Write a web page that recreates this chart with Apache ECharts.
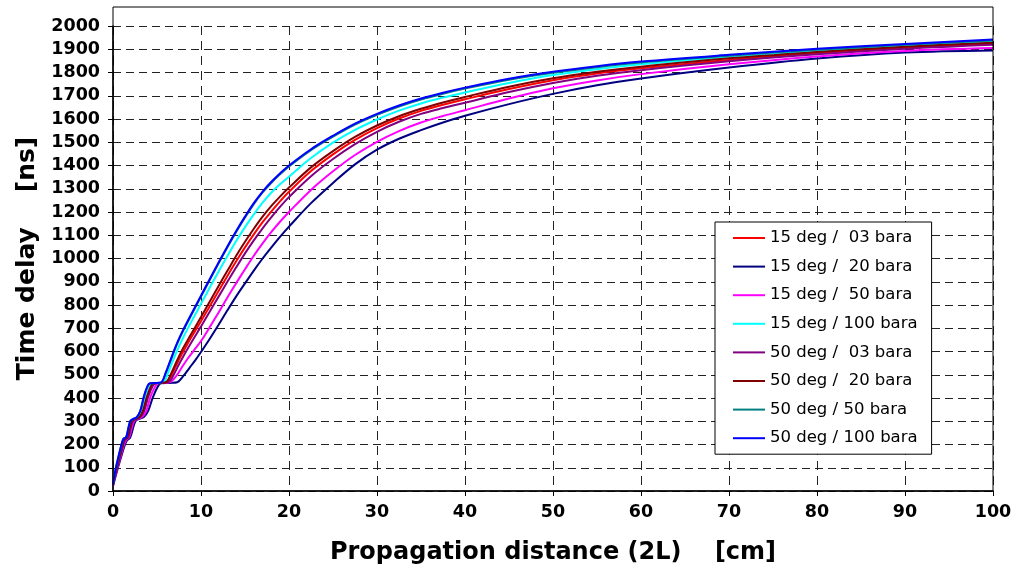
<!DOCTYPE html>
<html>
<head>
<meta charset="utf-8">
<script src="https://cdn.jsdelivr.net/npm/echarts@6/dist/echarts.min.js"></script>
<style>
  html, body { margin: 0; padding: 0; background: #fff; }
  #chart { width: 1015px; height: 577px; }
</style>
</head>
<body>
<div id="chart"></div>
<script>
// [distance cm, delay ns]
const deg15_bar03 = [[0,26],[0.34,85],[0.67,135],[1.12,200],[1.35,222],[1.7,232],[2.0,280],[2.25,303],[2.6,310],[3.05,318],[3.5,345],[3.9,405],[4.4,450],[4.7,463],[5.6,465],[6.2,470],[6.7,502],[7.3,550],[7.8,587],[8.5,635],[9,668],[10,730],[11,795],[12,860],[13,925],[14,988],[15,1048],[16,1104],[17,1156],[18,1203],[19,1247],[20,1287],[22.5,1376],[25,1448],[27.5,1510],[30,1561],[32.5,1602],[35,1635],[37.5,1661],[40,1685],[45,1729],[50,1767],[55,1796],[60,1818],[70,1854],[80,1883],[90,1906],[100,1923]];
const deg15_bar20 = [[0,22],[0.4,78],[0.78,128],[1.3,193],[1.6,218],[1.95,230],[2.35,280],[2.6,303],[3.0,310],[3.5,318],[4.0,345],[4.55,405],[5.1,450],[5.45,463],[6.5,465],[7.3,468],[8.0,495],[8.7,530],[9.4,565],[10,598],[11,655],[12,715],[13,777],[14,837],[15,893],[16,948],[17,1000],[18,1048],[19,1094],[20,1137],[22.5,1238],[25,1325],[27.5,1405],[30,1468],[32.5,1515],[35,1552],[37.5,1585],[40,1614],[45,1664],[50,1708],[55,1745],[60,1774],[70,1821],[80,1860],[90,1886],[100,1895]];
const deg15_bar50 = [[0,24],[0.37,80],[0.73,130],[1.22,195],[1.5,220],[1.85,232],[2.2,280],[2.45,303],[2.85,310],[3.3,318],[3.8,345],[4.25,405],[4.8,450],[5.1,463],[6.1,465],[6.6,470],[7.2,495],[7.8,530],[8.5,570],[9.2,605],[10,645],[11,705],[12,768],[13,832],[14,894],[15,954],[16,1012],[17,1065],[18,1114],[19,1159],[20,1200],[22.5,1295],[25,1375],[27.5,1445],[30,1502],[32.5,1548],[35,1585],[37.5,1613],[40,1638],[45,1688],[50,1732],[55,1766],[60,1793],[70,1835],[80,1869],[90,1893],[100,1905]];
const deg15_bar100 = [[0,28],[0.3,85],[0.6,135],[1.0,195],[1.3,225],[1.6,235],[1.9,280],[2.1,303],[2.4,310],[2.8,318],[3.2,345],[3.7,410],[4.1,452],[4.4,463],[5.2,465],[5.8,470],[6.3,512],[6.8,560],[7.3,605],[8,662],[9,735],[10,805],[11,875],[12,944],[13,1011],[14,1075],[15,1135],[16,1190],[17,1240],[18,1284],[19,1320],[20,1352],[22.5,1432],[25,1498],[27.5,1553],[30,1598],[32.5,1636],[35,1667],[37.5,1692],[40,1714],[45,1755],[50,1789],[55,1814],[60,1835],[70,1868],[80,1894],[90,1916],[100,1934]];
const deg50_bar03 = [[0,25],[0.35,82],[0.7,133],[1.15,198],[1.4,222],[1.75,232],[2.05,280],[2.3,303],[2.7,310],[3.1,318],[3.55,345],[4.0,405],[4.5,450],[4.85,463],[5.75,465],[6.4,470],[6.9,500],[7.5,545],[8.0,580],[9,645],[10,708],[11,772],[12,836],[13,900],[14,962],[15,1022],[16,1078],[17,1130],[18,1178],[19,1223],[20,1264],[22.5,1354],[25,1428],[27.5,1492],[30,1545],[32.5,1588],[35,1622],[37.5,1647],[40,1670],[45,1716],[50,1755],[55,1786],[60,1810],[70,1848],[80,1878],[90,1902],[100,1919]];
const deg50_bar20 = [[0,27],[0.33,85],[0.66,135],[1.1,200],[1.3,222],[1.65,232],[2.0,280],[2.2,303],[2.55,310],[3.0,318],[3.4,345],[3.85,405],[4.3,450],[4.6,463],[5.5,465],[6.1,470],[6.6,505],[7.2,555],[7.7,595],[8.5,650],[9,683],[10,748],[11,815],[12,882],[13,947],[14,1012],[15,1072],[16,1128],[17,1180],[18,1226],[19,1267],[20,1305],[22.5,1392],[25,1462],[27.5,1523],[30,1572],[32.5,1612],[35,1644],[37.5,1671],[40,1695],[45,1739],[50,1775],[55,1803],[60,1825],[70,1861],[80,1888],[90,1911],[100,1928]];
const deg50_bar50 = [[0,29],[0.3,92],[0.6,142],[1.0,203],[1.2,224],[1.5,232],[1.8,280],[2.0,302],[2.3,309],[2.7,317],[3.1,343],[3.5,403],[3.9,448],[4.2,462],[5.0,464],[5.5,467],[6.0,507],[6.5,556],[7.0,606],[7.5,651],[8,691],[9,764],[10,836],[11,908],[12,979],[13,1048],[14,1114],[15,1176],[16,1234],[17,1284],[18,1326],[19,1363],[20,1396],[22.5,1466],[25,1524],[27.5,1576],[30,1618],[32.5,1654],[35,1684],[37.5,1709],[40,1731],[45,1769],[50,1799],[55,1823],[60,1843],[70,1872],[80,1898],[90,1919],[100,1938]];
const deg50_bar100 = [[0,30],[0.3,95],[0.6,145],[1.0,205],[1.2,225],[1.5,232],[1.8,280],[2.0,303],[2.3,310],[2.7,318],[3.1,345],[3.5,405],[3.9,450],[4.2,463],[5.0,465],[5.5,468],[6.0,510],[6.5,560],[7.0,610],[7.5,655],[8,695],[9,768],[10,840],[11,912],[12,983],[13,1052],[14,1118],[15,1180],[16,1238],[17,1288],[18,1330],[19,1367],[20,1400],[22.5,1470],[25,1528],[27.5,1580],[30,1622],[32.5,1658],[35,1688],[37.5,1713],[40,1735],[45,1773],[50,1803],[55,1827],[60,1847],[70,1876],[80,1902],[90,1923],[100,1942]];

const seriesNames = ['15 deg /  03 bara', '15 deg /  20 bara', '15 deg /  50 bara', '15 deg / 100 bara',
  '50 deg /  03 bara', '50 deg /  20 bara', '50 deg / 50 bara', '50 deg / 100 bara'];
const seriesData = [deg15_bar03, deg15_bar20, deg15_bar50, deg15_bar100, deg50_bar03, deg50_bar20, deg50_bar50, deg50_bar100];
const seriesColors = ['#ff0000', '#000080', '#ff00ff', '#00ffff', '#800080', '#800000', '#008080', '#0000ff'];

const font = '"DejaVu Sans", Arial, sans-serif';
const chart = echarts.init(document.getElementById('chart'));

const series = seriesNames.map(function (name, i) {
  return {
    name: name,
    type: 'line',
    data: seriesData[i],
    symbol: 'none',
    smooth: 0.35,
    lineStyle: { color: seriesColors[i], width: 2 },
    itemStyle: { color: seriesColors[i] }
  };
});

chart.setOption({
  animation: false,
  backgroundColor: '#fff',
  grid: { left: 113, right: 22, top: 26, bottom: 86, show: false },
  graphic: [{
    type: 'rect',
    shape: { x: 113, y: 7, width: 880, height: 484 },
    style: { fill: 'none', stroke: '#000', lineWidth: 1 },
    z: 100
  }],
  legend: {
    orient: 'vertical',
    left: 715,
    top: 222,
    padding: [6, 14, 6, 18],
    itemWidth: 32,
    itemHeight: 2,
    itemGap: 8.6,
    backgroundColor: '#fff',
    borderColor: '#000',
    borderWidth: 1,
    textStyle: { fontFamily: font, fontSize: 16.5, color: '#000', lineHeight: 20 },
    data: seriesNames.map(function (n) { return { name: n, icon: 'rect' }; })
  },
  xAxis: {
    type: 'value',
    min: 0, max: 100, interval: 10,
    name: 'Propagation distance (2L)    [cm]',
    nameLocation: 'middle',
    nameGap: 50,
    nameTextStyle: { fontFamily: font, fontSize: 24, fontWeight: 'bold', color: '#000' },
    axisLine: { lineStyle: { color: '#000', width: 1.5 } },
    axisTick: { show: true, length: 5, lineStyle: { color: '#000' } },
    axisLabel: { fontFamily: font, fontSize: 17.5, fontWeight: 'bold', color: '#000', margin: 12 },
    splitLine: { show: true, lineStyle: { color: '#222', type: [9, 6], width: 1 } }
  },
  yAxis: {
    type: 'value',
    min: 0, max: 2000, interval: 100,
    name: 'Time delay    [ns]',
    nameLocation: 'middle',
    nameGap: 70,
    nameTextStyle: { fontFamily: font, fontSize: 25, fontWeight: 'bold', color: '#000' },
    axisLine: { show: true, lineStyle: { color: '#000', width: 1.5 } },
    axisTick: { show: true, length: 5, lineStyle: { color: '#000' } },
    axisLabel: {
      fontFamily: font, fontSize: 17.5, fontWeight: 'bold', color: '#000', margin: 13,
      formatter: function (v) { return String(v); }
    },
    splitLine: { show: true, lineStyle: { color: '#222', type: [8, 5], width: 1 } }
  },
  series: series
});
</script>
</body>
</html>
